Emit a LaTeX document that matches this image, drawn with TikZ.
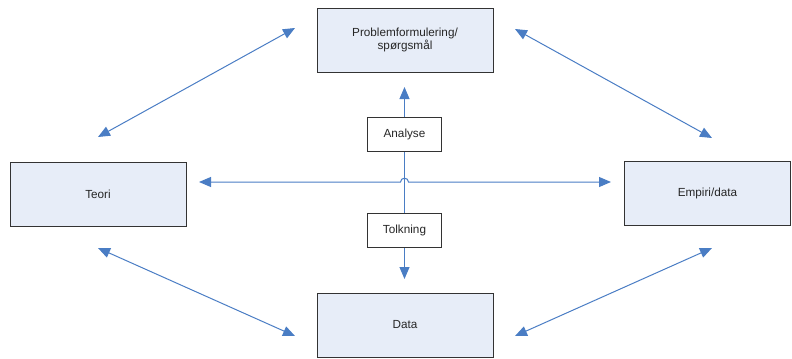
\documentclass[tikz,border=0pt]{standalone}
\usepackage{fontspec}
\setmainfont{Liberation Sans}
\usetikzlibrary{arrows.meta}
\definecolor{boxfill}{HTML}{E7EDF8}
\definecolor{linkblue}{HTML}{4A7DC4}
\definecolor{boxline}{HTML}{333333}
\begin{document}
\begin{tikzpicture}[x=0.75pt,y=-0.75pt,
  every node/.style={font=\fontsize{8.8}{10.4}\selectfont, text=black!85},
  bigbox/.style={draw=boxline, line width=0.6pt, fill=boxfill, minimum width=132pt, minimum height=48pt, inner sep=0pt, align=center},
  smallbox/.style={draw=boxline, line width=0.6pt, fill=white, minimum width=56pt, minimum height=26pt, inner sep=0pt},
  link/.style={draw=linkblue, line width=0.75pt},
  tip/.style={-{Triangle[length=9pt,width=7.5pt]}},
  tips/.style={{Triangle[length=9pt,width=7.5pt]}-{Triangle[length=9pt,width=7.5pt]}}]
\useasboundingbox (0,0) rectangle (792,358);

% boxes
\node[bigbox] (prob) at (405,40) {Problemformulering/\\spørgsmål};
\node[bigbox] (teori) at (98,194) {Teori};
\node[bigbox, minimum width=125pt] (emp) at (707.5,193) {Empiri/data};
\node[bigbox] (data) at (405,325) {Data};
\node[smallbox] (ana) at (404.5,134.5) {Analyse};
\node[smallbox] (tolk) at (404.5,230.5) {Tolkning};

% free ends of the connectors
\coordinate (hl) at (199,182);
\coordinate (hr) at (611,182);
\coordinate (jl) at (400.5,182);
\coordinate (jr) at (408.5,182);
\coordinate (up) at (404.5,87);
\coordinate (dn) at (404.5,279);
\coordinate (a1) at (98,137);
\coordinate (a2) at (295,28);
\coordinate (b1) at (515,29);
\coordinate (b2) at (712,138);
\coordinate (c1) at (98,248);
\coordinate (c2) at (295,336);
\coordinate (d1) at (515,336);
\coordinate (d2) at (712,248);

% vertical flow through the centre
\draw[link] (ana.south) -- (tolk.north);
\draw[link,tip] (ana.north) -- (up);
\draw[link,tip] (tolk.south) -- (dn);

% horizontal link with a hop over the vertical line
\draw[link,tips] (hl) -- (jl) .. controls (400.5,177) and (408.5,177) .. (jr) -- (hr);

% diagonal links
\draw[link,tips] (a1) -- (a2);
\draw[link,tips] (b1) -- (b2);
\draw[link,tips] (c1) -- (c2);
\draw[link,tips] (d1) -- (d2);
\end{tikzpicture}
\end{document}
